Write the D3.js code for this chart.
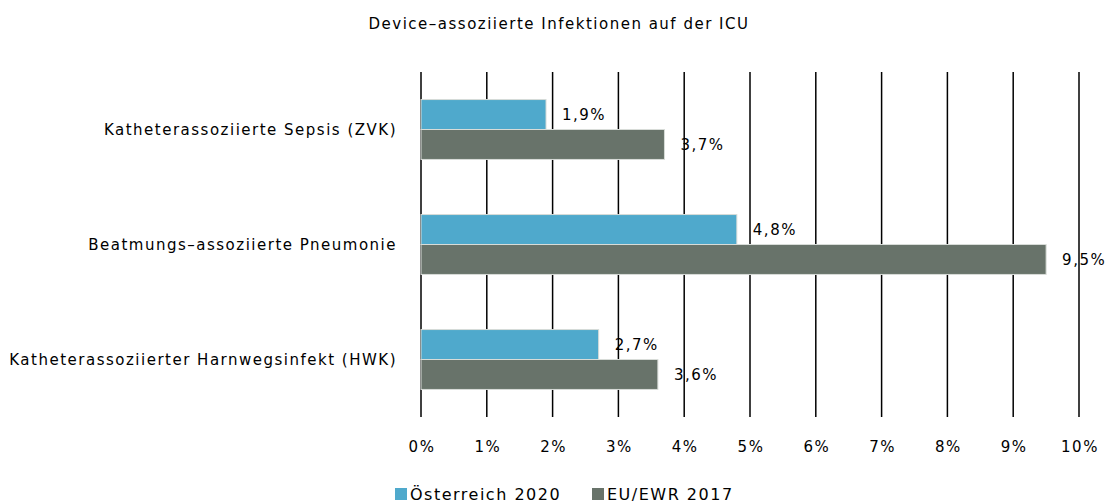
<!DOCTYPE html>
<html>
<head>
<meta charset="utf-8">
<script src="https://cdn.jsdelivr.net/npm/d3@7"></script>
<style>
  body { margin: 0; background: #fff; }
  text { font-family: "DejaVu Sans", sans-serif; fill: #000; letter-spacing: 1.5px; }
</style>
</head>
<body>
<svg id="chart"></svg>
<script>
const categories = [
  "Katheterassoziierte Sepsis (ZVK)",
  "Beatmungs-assoziierte Pneumonie",
  "Katheterassoziierter Harnwegsinfekt (HWK)"
];
const seriesNames = ["Österreich 2020", "EU/EWR 2017"];
const austria2020 = [1.9, 4.8, 2.7];
const euEwr2017 = [3.7, 9.5, 3.6];
const tickValues = [0, 1, 2, 3, 4, 5, 6, 7, 8, 9, 10];
const colors = ["#4fa9cc", "#68736a"];

const width = 1105, height = 504;
const margin = { top: 72, right: 26, bottom: 87, left: 421 };

const svg = d3.select("#chart").attr("width", width).attr("height", height);

const x = d3.scaleLinear().domain([0, 10]).range([margin.left, width - margin.right]);
const y = d3.scaleBand().domain(categories).range([margin.top, height - margin.bottom]);
const inner = d3.scaleBand().domain(seriesNames).range([0, y.bandwidth()]).paddingInner(0).paddingOuter(0.92);

// title
svg.append("text")
  .attr("x", 559).attr("y", 29)
  .attr("text-anchor", "middle")
  .style("font-size", "15px")
  .text("Device\u2013assoziierte Infektionen auf der ICU");

// gridlines
svg.append("g")
  .selectAll("line")
  .data(tickValues)
  .join("line")
  .attr("x1", d => x(d)).attr("x2", d => x(d))
  .attr("y1", margin.top).attr("y2", height - margin.bottom)
  .attr("stroke", "#000").attr("stroke-width", 1.5);

// tick labels
svg.append("g")
  .selectAll("text")
  .data(tickValues)
  .join("text")
  .attr("x", d => x(d) + 1).attr("y", 452)
  .attr("text-anchor", "middle")
  .style("font-size", "15px")
  .text(d => d + "%");

// category labels
svg.append("g")
  .selectAll("text")
  .data(categories)
  .join("text")
  .attr("x", 397)
  .attr("y", d => y(d) + y.bandwidth() / 2)
  .attr("dy", "0.35em")
  .attr("text-anchor", "end")
  .style("font-size", "15px")
  .text(d => d.replace("-", "\u2013"));

const rows = categories.map((c, i) => ({ cat: c, values: [austria2020[i], euEwr2017[i]] }));

const groups = svg.append("g")
  .selectAll("g")
  .data(rows)
  .join("g")
  .attr("transform", d => `translate(0,${y(d.cat)})`);

groups.selectAll("rect")
  .data(d => d.values.map((v, j) => ({ v, s: seriesNames[j], j })))
  .join("rect")
  .attr("x", x(0))
  .attr("y", d => inner(d.s))
  .attr("width", d => x(d.v) - x(0))
  .attr("height", inner.bandwidth())
  .attr("fill", d => colors[d.j])
  .attr("stroke", "#d8dcd8")
  .attr("stroke-width", 1);

groups.selectAll("text")
  .data(d => d.values.map((v, j) => ({ v, s: seriesNames[j], j })))
  .join("text")
  .attr("x", d => x(d.v) + 16)
  .attr("y", d => inner(d.s) + inner.bandwidth() / 2)
  .attr("dy", "0.35em")
  .style("font-size", "15px")
  .text(d => d.v.toFixed(1).replace(".", ",") + "%");

// legend
const legendX = [395, 592];
const legend = svg.append("g")
  .selectAll("g")
  .data(seriesNames)
  .join("g")
  .attr("transform", (d, i) => `translate(${legendX[i]},488)`);
legend.append("rect")
  .attr("width", 12).attr("height", 12)
  .attr("fill", (d, i) => colors[i]);
legend.append("text")
  .attr("x", 15).attr("y", 6).attr("dy", "0.35em")
  .style("font-size", "16px")
  .text(d => d);
</script>
</body>
</html>
